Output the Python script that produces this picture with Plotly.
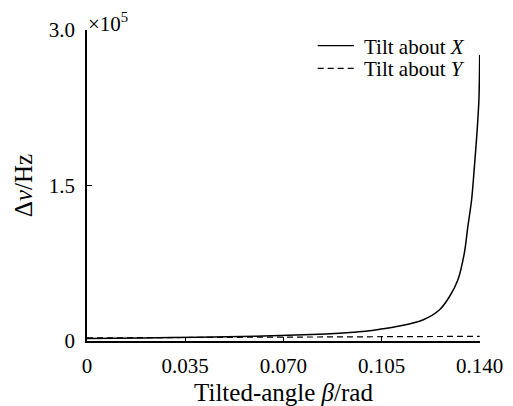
import plotly.graph_objects as go

# Tilt about X
beta_x = [0, 0.02, 0.04, 0.06, 0.08, 0.09, 0.095, 0.10, 0.1043, 0.1114, 0.1197, 0.1256,
          0.1292, 0.1322, 0.1345, 0.1358, 0.1371, 0.1381, 0.1390, 0.1397, 0.1400]
dnu_x = [2500, 3000, 3600, 4600, 6200, 7500, 8400, 9600, 11300, 14500, 20300, 29900,
         42700, 58800, 84600, 111000, 136000, 168000, 200000, 232000, 276000]

# Tilt about Y
beta_y = [0, 0.035, 0.070, 0.105, 0.140]
dnu_y = [3000, 3300, 3700, 4100, 4500]

series_names = ["Tilt about <i>X</i>", "Tilt about <i>Y</i>"]

x_ticks = [0, 0.035, 0.070, 0.105, 0.140]
x_tick_text = ["0", "0.035", "0.070", "0.105", "0.140"]
y_ticks = [0, 150000, 300000]
y_tick_text = ["0", "1.5", "3.0"]

FONT = "Liberation Serif"
FS = 21
DASH = "6px,4px"

fig = go.Figure()
fig.add_trace(go.Scatter(x=beta_x, y=dnu_x, mode="lines", name=series_names[0],
                         showlegend=False,
                         line=dict(color="black", width=1.5, shape="spline", smoothing=0.9)))
fig.add_trace(go.Scatter(x=beta_y, y=dnu_y, mode="lines", name=series_names[1],
                         showlegend=False,
                         line=dict(color="black", width=1.2, dash=DASH)))

fig.update_layout(
    width=513, height=406,
    margin=dict(l=87, r=33, t=30, b=65, autoexpand=False),
    paper_bgcolor="white", plot_bgcolor="white",
    font=dict(family=FONT, size=FS, color="black"),
    showlegend=False,
    xaxis=dict(range=[0, 0.1401], tickvals=x_ticks, ticktext=x_tick_text,
               ticks="inside", ticklen=4, tickwidth=1, tickcolor="black",
               showline=True, linecolor="black", linewidth=1.5,
               showgrid=False, zeroline=False, automargin=False,
               title=dict(text="Tilted-angle <i>β</i>/rad", standoff=8),
               ticklabelstandoff=5),
    yaxis=dict(range=[0, 300000], tickvals=y_ticks, ticktext=y_tick_text,
               ticks="inside", ticklen=5, tickwidth=1, tickcolor="black",
               showline=True, linecolor="black", linewidth=1.5,
               showgrid=False, zeroline=False, automargin=False,
               title=dict(text="Δ<i>ν</i>/Hz", standoff=9),
               ticklabelstandoff=6),
)

# manual legend (compact rows as in the reference)
leg_rows = [0.9495, 0.8768]
leg_dash = ["solid", DASH]
for name, yy, dsh in zip(series_names, leg_rows, leg_dash):
    fig.add_shape(type="line", xref="paper", yref="paper",
                  x0=0.587, x1=0.679, y0=yy, y1=yy,
                  line=dict(color="black", width=1.3, dash=dsh))
    fig.add_annotation(text=name, xref="paper", yref="paper", x=0.700, y=yy,
                       xanchor="left", yanchor="middle", showarrow=False,
                       font=dict(size=FS, family=FONT), yshift=-1)

fig.add_annotation(text="×10<sup>5</sup>", xref="paper", yref="paper",
                   x=0, y=1.0, xanchor="left", yanchor="bottom", showarrow=False,
                   font=dict(size=FS, family=FONT), xshift=-1, yshift=-8)

fig.write_html("out.html", config={"displayModeBar": False},
               post_script="document.body.style.margin='0';document.body.style.overflow='hidden';")
